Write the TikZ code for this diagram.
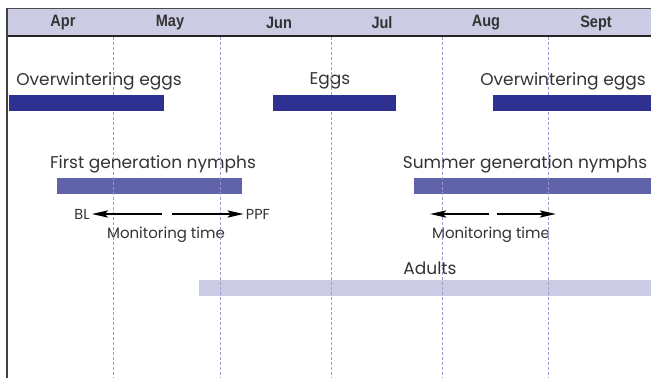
\documentclass[tikz,border=0pt]{standalone}
\usepackage{fontspec}
\setmainfont{Poppins}
\newfontfamily\monthfont{Liberation Sans Bold}[FakeStretch=0.88]
\usetikzlibrary{arrows.meta,positioning}
\definecolor{lav}{HTML}{CBCBE3}
\definecolor{navy}{HTML}{2E3192}
\definecolor{mid}{HTML}{6062AA}
\definecolor{gridc}{HTML}{9A9ACF}
\definecolor{txt}{HTML}{333333}
\begin{document}
\begin{tikzpicture}[x=1pt,y=-1pt,
  stage/.style={font=\fontsize{17}{20}\selectfont, text=txt, inner sep=0pt},
  bar/.style={minimum height=16pt, inner sep=0pt, anchor=north west},
  month/.style={font=\monthfont\fontsize{16.5}{18}\selectfont, text=txt, inner sep=0pt},
  small/.style={font=\fontsize{15}{17}\selectfont, text=txt, inner sep=1pt},
  tag/.style={font=\fontsize{14.5}{16}\selectfont, text=txt, inner sep=1pt},
  gridline/.style={densely dashed, draw=gridc, line width=0.6pt},
  mon/.style={line width=2.4pt, -{Stealth[length=16pt,width=7pt,inset=3pt]}}]
\useasboundingbox (0,0) rectangle (651,378);
\fill[lav] (7,8) rectangle (651,36);
\draw[line width=0.8pt, black!70] (7,8) -- (651,8);
\draw[line width=2.5pt, black!85] (7,36) -- (651,36);
\draw[line width=2pt, black!75] (7,8) -- (7,378);
\node[month] (apr)  at (63,23)  {Apr};
\node[month] (may)  at (170,23) {May};
\node[month] (jun)  at (279,23) {Jun};
\node[month] (jul)  at (382,23) {Jul};
\node[month] (aug)  at (486,23) {Aug};
\node[month] (sept) at (596,23) {Sept};

\node[bar, fill=mid, minimum width=185pt] (nymph1) at (57,178) {};
\node[bar, fill=mid, minimum width=237pt] (nymph2) at (414,178) {};
\node[bar, fill=lav, minimum width=452pt] (adultbar) at (199,280) {};

\node[stage] (owe1) at (99,81)  {Overwintering eggs};
\node[stage] (eggs) at (330,81) {Eggs};
\node[stage] (owe2) at (563,81) {Overwintering eggs};
\node[stage] (fgn)  at (153,164) {First generation nymphs};
\node[stage] (sgn)  at (525,164) {Summer generation nymphs};
\node[stage] (adults) at (430,268) {Adults};
\node[tag] (bl)  at (82,214)  {BL};
\node[tag] (ppf) at (258,214) {PPF};
\node[small] (mt1) at (166,235) {Monitoring time};
\node[small] (mt2) at (491,235) {Monitoring time};

\foreach \x in {113,220,331,442,548}
  \draw[gridline] (\x,37) -- (\x,378);

\node[bar, fill=navy, minimum width=155pt] (owebar1) at (9,95) {};
\node[bar, fill=navy, minimum width=123pt] (eggbar) at (273,95) {};
\node[bar, fill=navy, minimum width=158pt] (owebar2) at (493,95) {};

\coordinate (m1l) at (162,214);
\coordinate (m1r) at (172,214);
\coordinate (m2l) at (489,214);
\coordinate (m2r) at (497,214);
\coordinate (m2a) at (430,214);
\coordinate (m2b) at (556,214);
\path[mon]
  (m1l) edge[shorten >=1pt] (bl)
  (m1r) edge[shorten >=1pt] (ppf)
  (m2l) edge (m2a)
  (m2r) edge (m2b);
\end{tikzpicture}
\end{document}
